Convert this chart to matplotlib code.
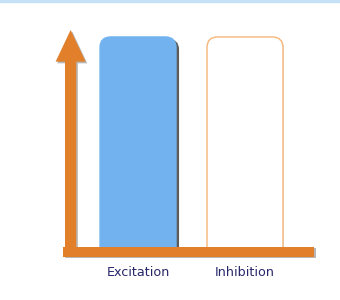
import matplotlib.pyplot as plt
from matplotlib.patches import FancyBboxPatch, FancyArrow
import matplotlib.patheffects as pe

categories = ['Excitation', 'Inhibition']
values = [1.0, 1.0]
bar_colors = ['#72b3ef', 'white']
edge_colors = ['#72b3ef', '#f6b679']

fig = plt.figure(figsize=(3.4, 3.0), dpi=100)
ax = fig.add_axes([0, 0, 1, 1])
ax.set_xlim(-1.29, 1.888)
ax.set_ylim(-0.246, 1.175)
ax.axis('off')

# thin light blue line at the top
ax.axhline(1.168, color='#c6e1f5', lw=2.5)

x = range(len(categories))
bars = ax.bar(x, values, width=0.71, color='none', edgecolor='none')

shadows = [pe.SimplePatchShadow(offset=(2.2, -1.5), shadow_rgbFace='#333333', alpha=0.8),
           pe.SimplePatchShadow(offset=(0.6, -0.6), shadow_rgbFace='#c8c8c8', alpha=0.7)]
for b, fc, ec, sh in zip(bars, bar_colors, edge_colors, shadows):
    bx, by, bw, bh = b.get_x(), b.get_y(), b.get_width(), b.get_height()
    # rounded box extended below the base, clipped so only the top is rounded
    shape = FancyBboxPatch((bx, by - 0.3), bw, bh + 0.3,
                           boxstyle='round,pad=0,rounding_size=0.1',
                           mutation_aspect=0.5, fc=fc, ec=ec, lw=1.0, zorder=2)
    shape.set_path_effects([sh, pe.Normal()])
    ax.add_patch(shape)
    clip = plt.Rectangle((bx - 0.2, by - 0.02), bw + 0.4, bh + 0.2, transform=ax.transData)
    shape.set_clip_path(clip)

orange = '#e27f2a'
axis_shadow = [pe.SimplePatchShadow(offset=(1.2, -1.2), shadow_rgbFace='#888888', alpha=0.6), pe.Normal()]

# vertical arrow
varrow = FancyArrow(-0.63, -0.03, 0, 1.063, width=0.105, head_width=0.28,
                    head_length=0.15, length_includes_head=True,
                    fc=orange, ec='none', zorder=3)
varrow.set_path_effects(axis_shadow)
ax.add_patch(varrow)

# horizontal axis
hbar = plt.Rectangle((-0.70, -0.040), 2.345, 0.047, fc=orange, ec='none', zorder=3)
hbar.set_path_effects(axis_shadow)
ax.add_patch(hbar)

for i, c in zip(x, categories):
    ax.text(i, -0.118, c, ha='center', va='center', fontsize=9.2,
            color='#26266a', family='DejaVu Sans')

fig.savefig('out.png', dpi=100)
